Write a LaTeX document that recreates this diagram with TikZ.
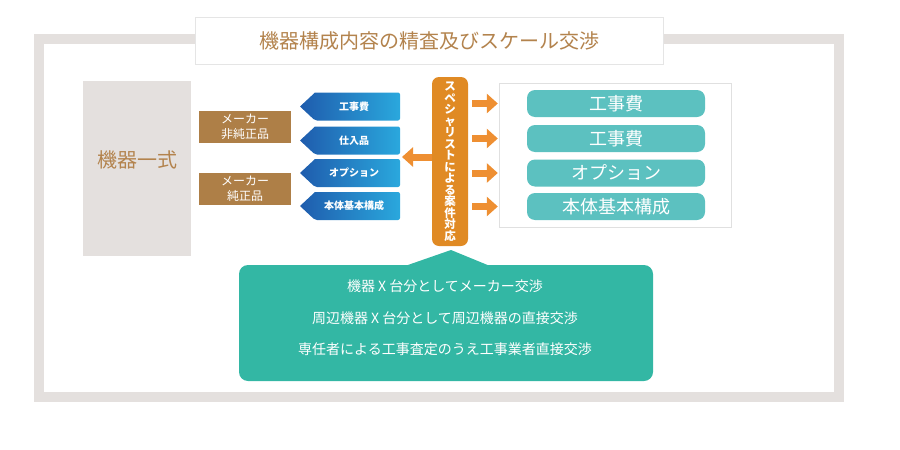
\documentclass[tikz,border=0pt]{standalone}
\usepackage{fontspec}
\setmainfont{Noto Sans CJK JP}
\usetikzlibrary{arrows.meta}
\definecolor{framegray}{HTML}{E4E0DE}
\definecolor{textbrown}{HTML}{B3834D}
\definecolor{boxbrown}{HTML}{AE7F47}
\definecolor{barteal}{HTML}{5CC1C0}
\definecolor{calloutteal}{HTML}{33B7A4}
\definecolor{specorange}{HTML}{E08A24}
\definecolor{arroworange}{HTML}{EE8F32}
\definecolor{blueleft}{HTML}{1F5CAD}
\definecolor{blueright}{HTML}{2AA8DD}

\begin{document}
\begin{tikzpicture}[x=1pt,y=-1pt,
  makerbox/.style={fill=boxbrown,text=white,minimum width=92pt,minimum height=32pt,
    align=center,inner sep=0pt,font=\fontsize{12}{15}\selectfont},
  itemtxt/.style={text=white,font=\bfseries\fontsize{10}{11}\selectfont},
  bar/.style={fill=barteal,rounded corners=8pt,minimum width=178pt,minimum height=27pt,
    text=white,font=\fontsize{18}{19}\selectfont},
  blockarr/.style={arroworange,line width=7pt,-{Triangle[length=11pt,width=19pt]}},
  calltxt/.style={text=white,font=\fontsize{14}{15}\selectfont}]
\useasboundingbox (0,0) rectangle (900,450);
% outer frame and title
\draw[framegray,line width=10pt] (39,39) rectangle (839,397);
\node[draw=black!10,fill=white,minimum width=468pt,minimum height=47pt,
  text=textbrown,font=\fontsize{20}{21}\selectfont] (title) at (429,40.5) {機器構成内容の精査及びスケール交渉};
% left block
\node[fill=framegray,minimum width=108pt,minimum height=175pt] (kiki) at (137,168.5) {};
\node[text=textbrown,font=\fontsize{20}{21}\selectfont] (kikitxt) at (137,160) {機器一式};
\node[makerbox] (hijun) at (245,127) {メーカー\\非純正品};
\node[makerbox] (jun) at (245,189) {メーカー\\純正品};
% blue pointed items
\foreach \y/\name/\txt in {106.5/koji/工事費,140.5/shiire/仕入品,173/option/オプション,206/honta/本体基本構成}{
  \shade[left color=blueleft,right color=blueright,rounded corners=2pt]
    (315,\y-14) -- (400,\y-14) -- (400,\y+14) -- (315,\y+14) [sharp corners] -- (300,\y) -- cycle;
  \node[itemtxt] (\name) at (354,\y) {\txt};
}
\coordinate (blueend) at (402,157);
% specialist column
\node[fill=specorange,rounded corners=7pt,minimum width=36pt,minimum height=169pt,
  inner sep=0pt,text=white,align=center,font=\bfseries\fontsize{11.5}{11.5}\selectfont]
  (spec) at (450,161.5) {ス\\ペ\\シ\\ャ\\リ\\ス\\ト\\に\\よ\\る\\案\\件\\対\\応};
% right block
\node[draw=black!12,fill=white,minimum width=232pt,minimum height=144pt] (rbox) at (615,155) {};
\node[bar] (r1) at (616,103.5) {工事費};
\node[bar] (r2) at (616,138.5) {工事費};
\node[bar] (r3) at (616,173) {オプション};
\node[bar] (r4) at (616,206.5) {本体基本構成};
% arrows
\draw[blockarr] (spec.west |- blueend) -- (blueend);
\foreach \r in {r1,r2,r3,r4}
  \draw[blockarr] ([xshift=4pt]spec.east |- \r) -- ([xshift=-1pt]rbox.west |- \r);
% callout
\fill[calloutteal,rounded corners=9pt] (239,265) rectangle (653,381);
\fill[calloutteal] (405,266) -- (451,250) -- (490,266) -- cycle;
\node[calltxt] (c1) at (445,286) {機器 X 台分としてメーカー交渉};
\node[calltxt] (c2) at (445,318) {周辺機器 X 台分として周辺機器の直接交渉};
\node[calltxt] (c3) at (445,349) {専任者による工事査定のうえ工事業者直接交渉};
\end{tikzpicture}
\end{document}
